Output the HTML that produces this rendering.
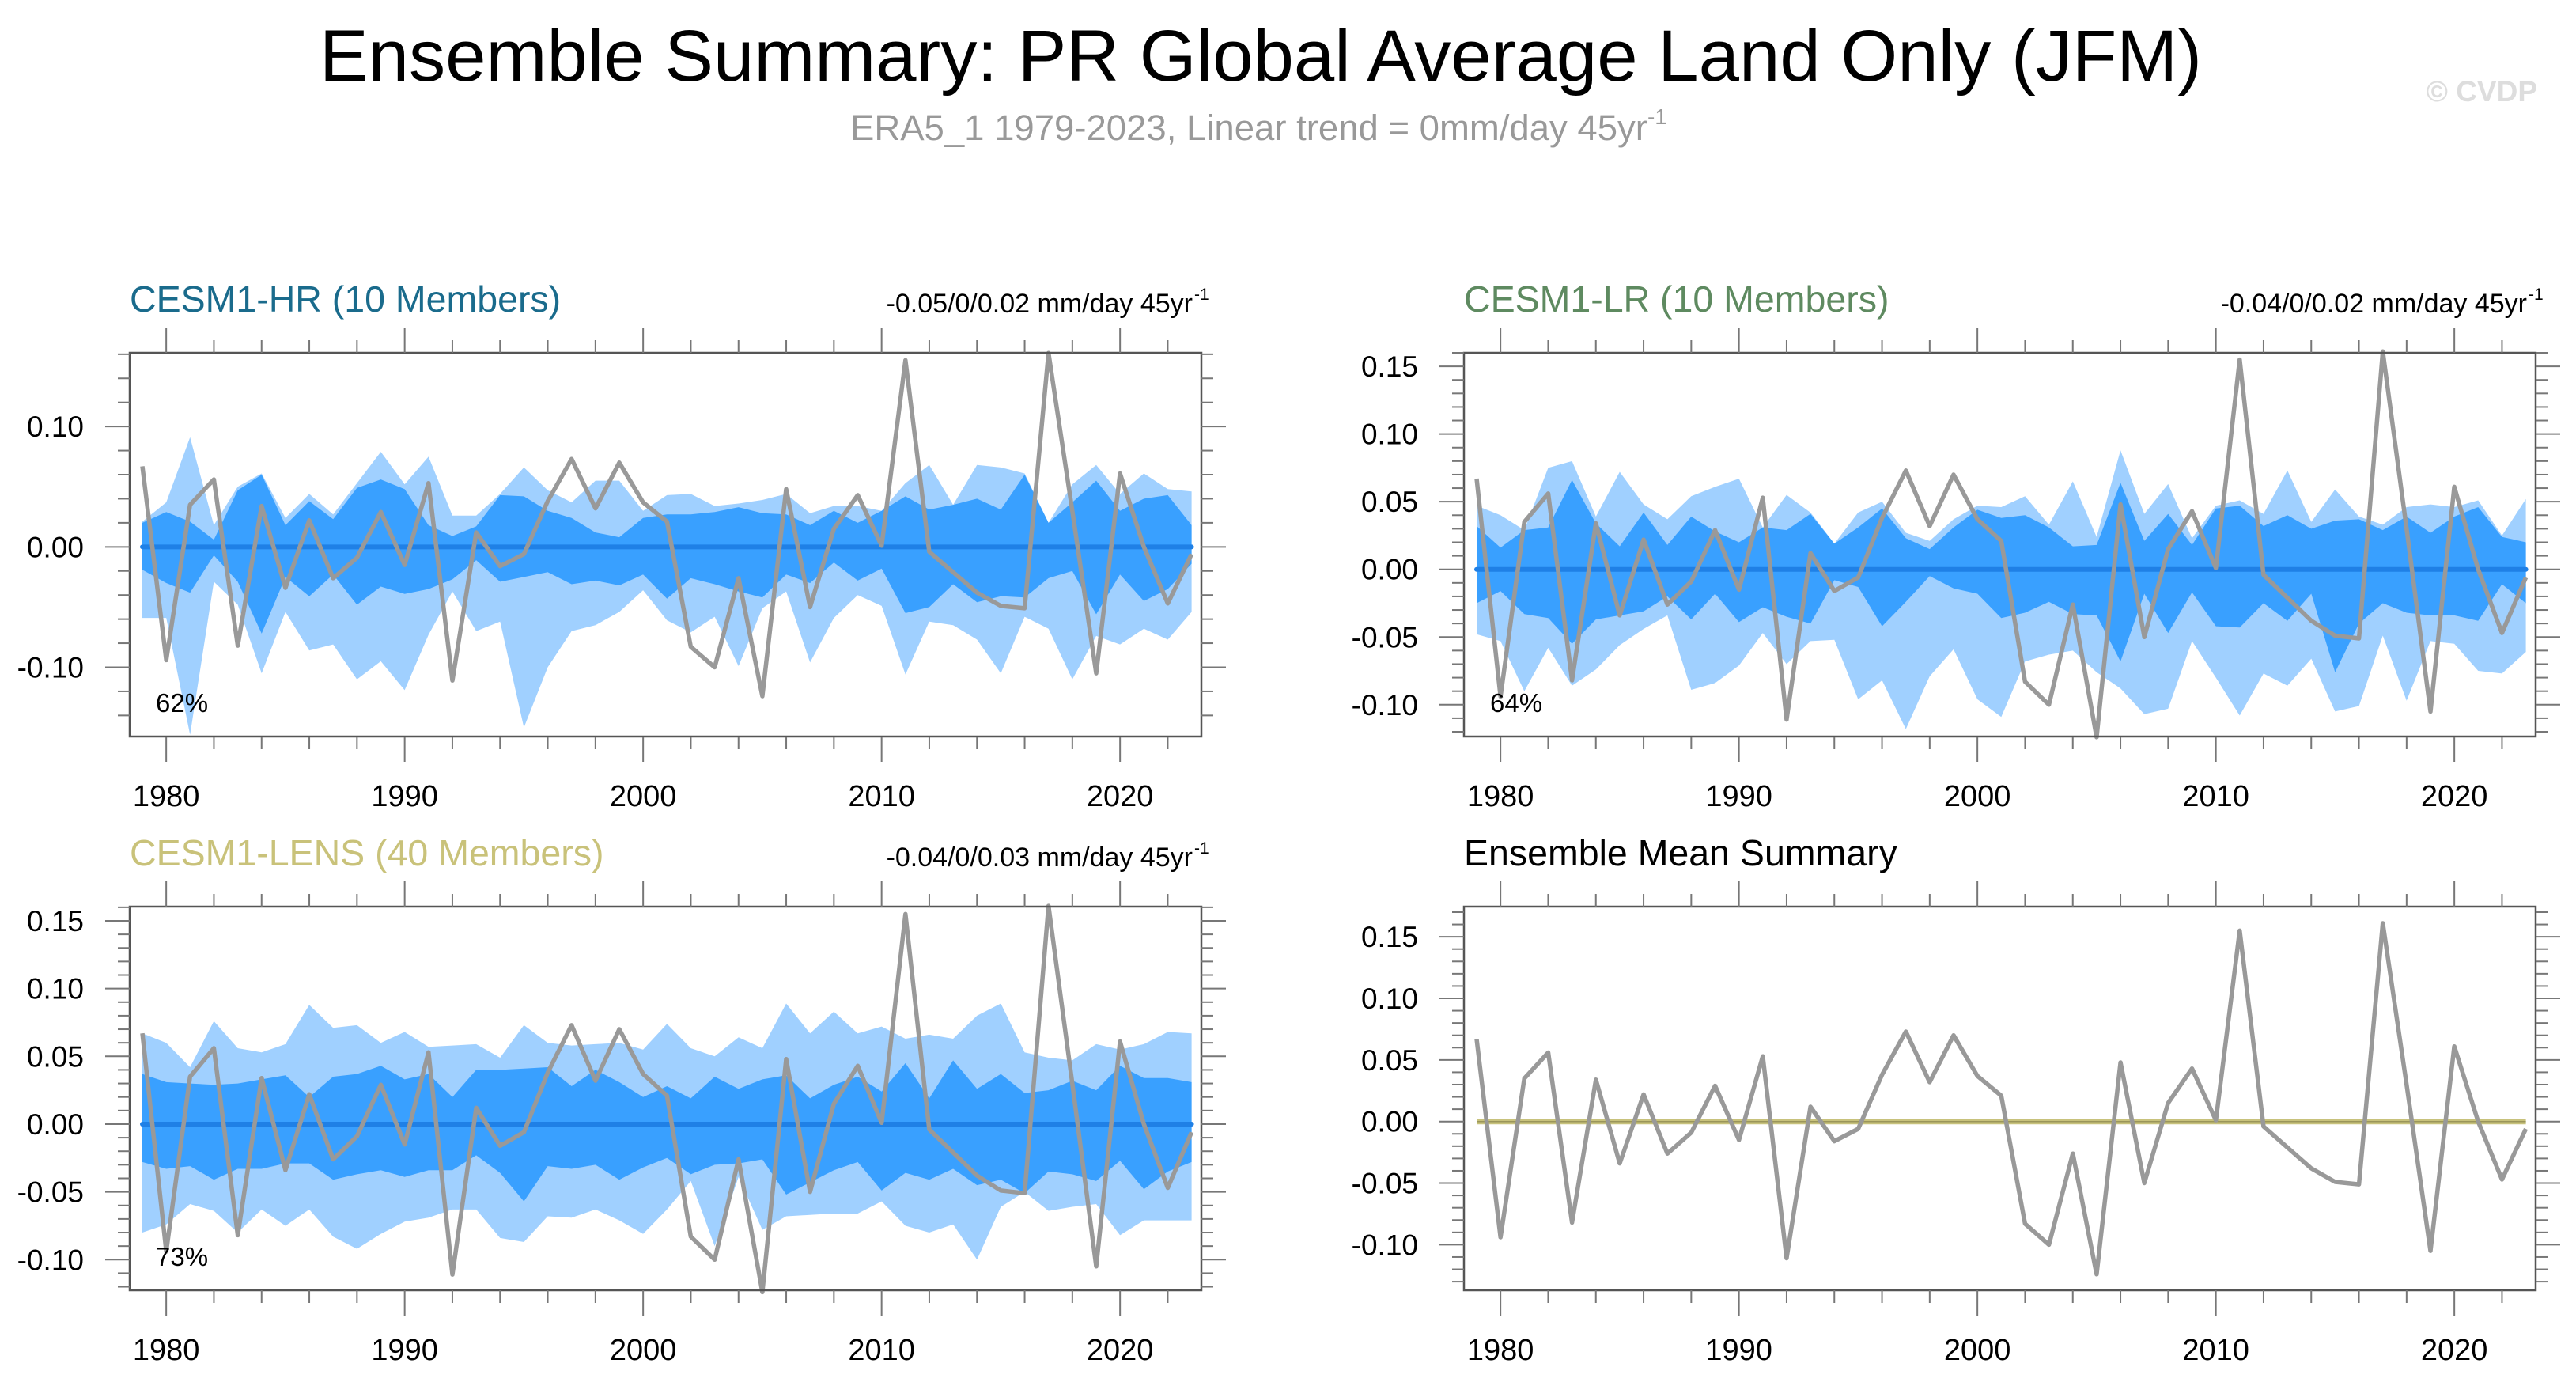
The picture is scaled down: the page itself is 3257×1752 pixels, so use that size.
<!DOCTYPE html>
<html><head><meta charset="utf-8">
<style>
html,body{margin:0;padding:0;background:#fff;}
svg{display:block;font-family:"Liberation Sans",Arial,sans-serif;}
</style></head>
<body>
<svg id="chart" width="3257" height="1752" viewBox="0 0 3257 1752" xmlns="http://www.w3.org/2000/svg">
  <rect x="0" y="0" width="3257" height="1752" fill="#fff"/>
  <text x="1594" y="102" font-size="92" text-anchor="middle" textLength="2380" lengthAdjust="spacingAndGlyphs" fill="#000">Ensemble Summary: PR Global Average Land Only (JFM)</text>
  <text x="1075" y="177" font-size="45.5" fill="#999">ERA5_1 1979-2023, Linear trend = 0mm/day 45yr<tspan font-size="28" dy="-20">-1</tspan></text>
  <text x="3208" y="128" font-size="37" font-weight="bold" text-anchor="end" fill="#ddd">© CVDP</text>
  <g id="panels"></g>
</svg>
<script>
const years = [];
for (let y = 1979; y <= 2023; y++) years.push(y);

const era5 = [0.067,-0.094,0.035,0.056,-0.082,0.034,-0.034,0.022,-0.026,-0.009,0.029,-0.015,0.053,-0.111,0.012,-0.016,-0.006,0.038,0.073,0.032,0.070,0.037,0.021,-0.083,-0.100,-0.026,-0.124,0.048,-0.050,0.015,0.043,0.001,0.155,-0.004,-0.021,-0.038,-0.049,-0.051,0.161,0.030,-0.105,0.061,0.000,-0.047,-0.006];

const hrOuterHi = [.021,.037,.091,.018,.050,.061,.024,.044,.027,.053,.079,.052,.075,.026,.026,.044,.066,.047,.037,.055,.055,.030,.043,.044,.034,.036,.039,.044,.028,.034,.034,.030,.053,.068,.035,.068,.066,.061,.020,.052,.068,.044,.061,.048,.046];
const hrInnerHi = [.020,.029,.021,.006,.047,.060,.018,.038,.023,.049,.056,.048,.018,.009,.017,.043,.042,.030,.024,.012,.008,.024,.027,.027,.029,.033,.028,.027,.018,.030,.020,.030,.042,.031,.035,.040,.031,.060,.020,.037,.055,.030,.040,.043,.018];
const hrInnerLo = [-.019,-.030,-.038,-.007,-.029,-.072,-.025,-.041,-.023,-.048,-.033,-.039,-.035,-.027,-.011,-.029,-.025,-.021,-.031,-.028,-.032,-.023,-.043,-.026,-.031,-.037,-.042,-.023,-.030,-.013,-.028,-.018,-.055,-.050,-.031,-.046,-.041,-.042,-.026,-.020,-.056,-.023,-.045,-.035,-.014];
const hrOuterLo = [-.059,-.059,-.156,-.029,-.048,-.105,-.054,-.086,-.081,-.110,-.095,-.119,-.073,-.037,-.070,-.062,-.150,-.100,-.070,-.065,-.054,-.036,-.061,-.071,-.058,-.099,-.051,-.037,-.096,-.059,-.040,-.049,-.106,-.062,-.065,-.077,-.105,-.058,-.068,-.110,-.074,-.081,-.068,-.077,-.054];

const lrOuterHi = [.047,.040,.029,.075,.080,.039,.072,.048,.037,.054,.061,.067,.031,.055,.042,.019,.042,.050,.027,.021,.037,.047,.046,.054,.033,.065,.024,.088,.041,.063,.023,.047,.051,.041,.073,.035,.059,.039,.033,.046,.048,.046,.051,.025,.052];
const lrInnerHi = [.032,.016,.029,.031,.066,.034,.017,.042,.018,.039,.028,.020,.031,.029,.041,.019,.031,.045,.023,.015,.031,.044,.038,.040,.031,.017,.018,.064,.021,.041,.018,.045,.047,.032,.040,.030,.036,.037,.029,.039,.027,.039,.046,.024,.020];
const lrInnerLo = [-.025,-.016,-.033,-.036,-.055,-.037,-.034,-.031,-.020,-.037,-.018,-.039,-.028,-.035,-.040,-.008,-.013,-.042,-.024,-.005,-.014,-.018,-.036,-.032,-.024,-.033,-.034,-.068,-.018,-.047,-.017,-.042,-.043,-.025,-.038,-.018,-.076,-.040,-.025,-.032,-.034,-.034,-.038,-.011,-.025];
const lrOuterLo = [-.048,-.053,-.090,-.058,-.086,-.074,-.056,-.044,-.034,-.089,-.084,-.071,-.047,-.070,-.053,-.052,-.096,-.082,-.118,-.079,-.059,-.096,-.109,-.068,-.063,-.060,-.076,-.088,-.107,-.103,-.053,-.080,-.108,-.077,-.086,-.066,-.105,-.101,-.049,-.097,-.053,-.055,-.075,-.077,-.061];

const lensOuterHi = [.067,.060,.042,.076,.056,.053,.059,.088,.071,.073,.060,.068,.057,.058,.059,.049,.073,.060,.058,.059,.060,.055,.074,.056,.050,.064,.056,.089,.067,.083,.067,.072,.063,.066,.063,.080,.089,.053,.049,.047,.059,.055,.059,.068,.067];
const lensInnerHi = [.037,.031,.030,.029,.030,.033,.036,.020,.035,.037,.043,.033,.037,.020,.040,.040,.041,.042,.028,.040,.031,.020,.028,.019,.035,.026,.033,.036,.019,.029,.035,.024,.045,.019,.047,.026,.037,.023,.025,.032,.025,.043,.034,.034,.031];
const lensInnerLo = [-.028,-.033,-.031,-.041,-.033,-.033,-.029,-.029,-.041,-.037,-.034,-.039,-.034,-.034,-.023,-.036,-.057,-.031,-.033,-.030,-.041,-.032,-.025,-.037,-.030,-.029,-.026,-.052,-.043,-.034,-.028,-.049,-.036,-.041,-.033,-.045,-.041,-.051,-.035,-.037,-.042,-.027,-.048,-.035,-.028];
const lensOuterLo = [-.080,-.074,-.059,-.064,-.080,-.063,-.075,-.063,-.083,-.092,-.081,-.072,-.069,-.063,-.063,-.084,-.087,-.068,-.069,-.063,-.071,-.081,-.063,-.042,-.090,-.039,-.078,-.068,-.067,-.066,-.066,-.057,-.075,-.080,-.074,-.100,-.061,-.050,-.064,-.061,-.059,-.082,-.071,-.071,-.071];

const yTicksHR = [-0.10, 0.00, 0.10];
const yTicksOther = [-0.10, -0.05, 0.00, 0.05, 0.10, 0.15];
const xTickLabels = [1980, 1990, 2000, 2010, 2020];

const NS = "http://www.w3.org/2000/svg";
const root = document.getElementById('panels');
function el(tag, attrs, parent) {
  const e = document.createElementNS(NS, tag);
  for (const k in attrs) e.setAttribute(k, attrs[k]);
  (parent || root).appendChild(e);
  return e;
}

function panel(cfg) {
  const g = el('g', {});
  
  
  const L = cfg.left, R = cfg.left + 1355, T = cfg.top, B = cfg.top + 485;
  const xs = yr => L + 16 + (yr - 1979) * 30.15;
  const ys = v => B - (v - cfg.ymin) / (cfg.ymax - cfg.ymin) * (B - T);

  function area(hi, lo, color, nm) {
    let d = '';
    years.forEach((yr, i) => { d += (i ? 'L' : 'M') + xs(yr).toFixed(1) + ',' + ys(hi[i]).toFixed(1); });
    for (let i = years.length - 1; i >= 0; i--) d += 'L' + xs(years[i]).toFixed(1) + ',' + ys(lo[i]).toFixed(1);
    const p = el('path', {d: d + 'Z', fill: color}, g);
    
    
  }
  if (cfg.bands) {
    area(cfg.bands[0], cfg.bands[3], '#a0d0ff', 'outer-spread-band');
    area(cfg.bands[1], cfg.bands[2], '#39a0ff', 'inner-spread-band');
    const m = el('line', {x1: xs(1979), x2: xs(2023), y1: ys(0), y2: ys(0), stroke: '#1f80e6', 'stroke-width': 6, 'stroke-linecap': 'round'}, g);
    
    
  } else {
    const m = el('line', {x1: xs(1979), x2: xs(2023), y1: ys(0), y2: ys(0), stroke: '#c8c27c', 'stroke-width': 7}, g);
    
    
    el('line', {x1: xs(1979), x2: xs(2023), y1: ys(0), y2: ys(0), stroke: '#9a955a', 'stroke-width': 1.5}, g);
  }
  const pts = years.map((yr, i) => xs(yr).toFixed(1) + ',' + ys(era5[i]).toFixed(1)).join(' ');
  const ob = el('polyline', {points: pts, fill: 'none', stroke: '#999', 'stroke-width': 5.5, 'stroke-linejoin': 'round'}, g);
  
  

  const box = el('rect', {x: L, y: T, width: R - L, height: B - T, fill: 'none', stroke: '#555', 'stroke-width': 2.5}, g);
  
  
  for (let yr = 1980; yr <= 2022; yr += 2) {
    const major = yr % 10 === 0, len = major ? 32 : 16;
    el('line', {x1: xs(yr), x2: xs(yr), y1: B, y2: B + len, stroke: '#777', 'stroke-width': 2}, g);
    el('line', {x1: xs(yr), x2: xs(yr), y1: T, y2: T - len, stroke: '#777', 'stroke-width': 2}, g);
  }
  xTickLabels.forEach(yr => {
    const t = el('text', {x: xs(yr), y: B + 88, 'font-size': 38, 'text-anchor': 'middle', fill: '#000'}, g);
    t.textContent = yr;
    
    
  });
  const step = cfg.minor;
  for (let v = Math.ceil(cfg.ymin / step) * step; v <= cfg.ymax + 1e-9; v += step) {
    const vv = Math.round(v / step) * step;
    const major = cfg.yticks.some(t => Math.abs(t - vv) < 1e-6), len = major ? 31 : 15;
    const y = ys(vv);
    el('line', {x1: L, x2: L - len, y1: y, y2: y, stroke: '#777', 'stroke-width': 2}, g);
    el('line', {x1: R, x2: R + len, y1: y, y2: y, stroke: '#777', 'stroke-width': 2}, g);
  }
  cfg.yticks.forEach(v => {
    const t = el('text', {x: L - 58, y: ys(v) + 13, 'font-size': 37, 'text-anchor': 'end', fill: '#000'}, g);
    t.textContent = v.toFixed(2);
    
    
  });
  const ti = el('text', {x: L, y: T - 52, 'font-size': 46.5, fill: cfg.color}, g);
  ti.textContent = cfg.title;
  
  
  if (cfg.trend) {
    const tr = el('text', {x: R - 11, y: T - 51, 'font-size': 34, 'text-anchor': 'end', fill: '#000'}, g);
    tr.textContent = cfg.trend;
    
    
    const sp = el('text', {x: R - 9, y: T - 67, 'font-size': 21, 'text-anchor': 'start', fill: '#000'}, g);
    sp.textContent = '-1';
    
    
  }
  if (cfg.pct) {
    const pc = el('text', {x: L + 33, y: B - 31, 'font-size': 33, fill: '#000'}, g);
    pc.textContent = cfg.pct;
    
    
  }
}

panel({name: 'cesm1-hr-panel', left: 164, top: 446, ymin: -0.1575, ymax: 0.1612, yticks: yTicksHR, minor: 0.02,
  bands: [hrOuterHi, hrInnerHi, hrInnerLo, hrOuterLo], title: 'CESM1-HR (10 Members)', color: '#1a6b8c',
  trend: '-0.05/0/0.02 mm/day 45yr', pct: '62%'});
panel({name: 'cesm1-lr-panel', left: 1851, top: 446, ymin: -0.1235, ymax: 0.160, yticks: yTicksOther, minor: 0.01,
  bands: [lrOuterHi, lrInnerHi, lrInnerLo, lrOuterLo], title: 'CESM1-LR (10 Members)', color: '#5e8a60',
  trend: '-0.04/0/0.02 mm/day 45yr', pct: '64%'});
panel({name: 'cesm1-lens-panel', left: 164, top: 1146, ymin: -0.1226, ymax: 0.1605, yticks: yTicksOther, minor: 0.01,
  bands: [lensOuterHi, lensInnerHi, lensInnerLo, lensOuterLo], title: 'CESM1-LENS (40 Members)', color: '#c9c27a',
  trend: '-0.04/0/0.03 mm/day 45yr', pct: '73%'});
panel({name: 'ensemble-mean-summary-panel', left: 1851, top: 1146, ymin: -0.137, ymax: 0.1745, yticks: yTicksOther, minor: 0.01,
  bands: null, title: 'Ensemble Mean Summary', color: '#000', trend: null, pct: null});
</script>
</body></html>
